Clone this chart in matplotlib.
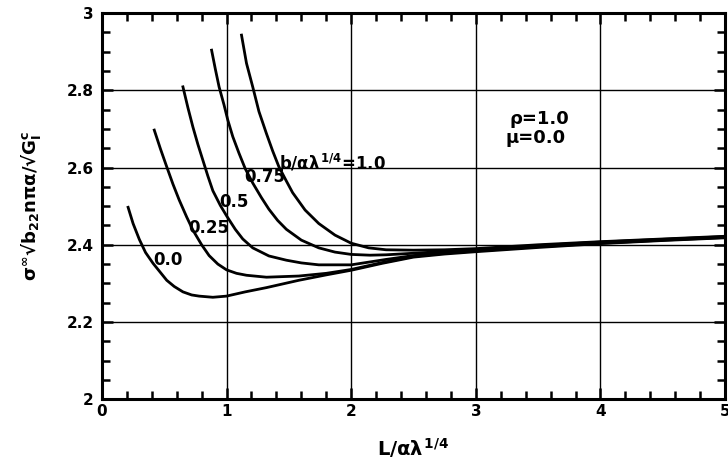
import numpy as np
import matplotlib.pyplot as plt
from matplotlib.ticker import MultipleLocator

plt.rcParams['font.family'] = ['DejaVu Sans']
plt.rcParams['font.weight'] = 'bold'
plt.rcParams['mathtext.fontset'] = 'custom'
plt.rcParams['mathtext.rm'] = 'DejaVu Sans:bold'
plt.rcParams['mathtext.it'] = 'DejaVu Sans:bold'
plt.rcParams['mathtext.bf'] = 'DejaVu Sans:bold'

# b/a lambda^1/4 = 0.0
x00 = [0.21, 0.25, 0.30, 0.35, 0.41, 0.47, 0.52, 0.58, 0.65, 0.72, 0.78, 0.89, 1.0, 1.15, 1.32, 1.58, 1.8, 2.0,
       2.25, 2.5, 2.75, 3.0, 3.5, 4.0, 4.5, 5.0]
y00 = [2.497, 2.455, 2.414, 2.380, 2.352, 2.328, 2.308, 2.292, 2.278, 2.270, 2.267, 2.264, 2.267, 2.278, 2.289,
       2.308, 2.322, 2.334, 2.352, 2.368, 2.376, 2.382, 2.393, 2.403, 2.411, 2.418]
# 0.25
x025 = [0.42, 0.47, 0.52, 0.57, 0.62, 0.68, 0.73, 0.80, 0.86, 0.93, 1.0, 1.08, 1.16, 1.32, 1.58, 1.8, 2.0, 2.25,
        2.5, 2.75, 3.0, 3.5, 4.0, 4.5, 5.0]
y025 = [2.697, 2.648, 2.602, 2.557, 2.516, 2.472, 2.438, 2.400, 2.372, 2.350, 2.335, 2.326, 2.321, 2.316, 2.319,
        2.326, 2.336, 2.354, 2.370, 2.378, 2.384, 2.395, 2.404, 2.412, 2.419]
# 0.5
x05 = [0.65, 0.69, 0.73, 0.77, 0.81, 0.85, 0.89, 0.95, 1.0, 1.07, 1.13, 1.21, 1.34, 1.48, 1.6, 1.74, 2.0, 2.28,
       2.5, 2.75, 3.0, 3.5, 4.0, 4.5, 5.0]
y05 = [2.809, 2.755, 2.705, 2.660, 2.619, 2.578, 2.540, 2.502, 2.475, 2.440, 2.415, 2.392, 2.371, 2.360, 2.353,
       2.348, 2.348, 2.362, 2.372, 2.380, 2.386, 2.397, 2.406, 2.413, 2.420]
# 0.75
x075 = [0.88, 0.91, 0.94, 0.98, 1.01, 1.05, 1.10, 1.15, 1.21, 1.28, 1.34, 1.41, 1.48, 1.6, 1.74, 1.87, 2.0, 2.15,
        2.28, 2.5, 2.75, 3.0, 3.5, 4.0, 4.5, 5.0]
y075 = [2.904, 2.855, 2.809, 2.762, 2.723, 2.680, 2.637, 2.597, 2.560, 2.522, 2.492, 2.463, 2.440, 2.412, 2.392,
        2.381, 2.375, 2.373, 2.374, 2.378, 2.383, 2.388, 2.398, 2.407, 2.414, 2.421]
# 1.0
x10 = [1.12, 1.16, 1.21, 1.26, 1.32, 1.37, 1.42, 1.48, 1.53, 1.63, 1.74, 1.87, 2.0, 2.14, 2.28, 2.5, 2.75, 3.0,
       3.5, 4.0, 4.5, 5.0]
y10 = [2.943, 2.870, 2.809, 2.745, 2.688, 2.643, 2.602, 2.565, 2.535, 2.490, 2.455, 2.425, 2.404, 2.392, 2.387,
       2.386, 2.387, 2.390, 2.400, 2.408, 2.415, 2.422]

curves = [(x00, y00), (x025, y025), (x05, y05), (x075, y075), (x10, y10)]
labels = ['0.0', '0.25', '0.5', '0.75', r'b/$\alpha\lambda^{1/4}$=1.0']
label_pos = [(0.41, 2.36), (0.69, 2.443), (0.94, 2.51), (1.14, 2.575), (1.42, 2.611)]

fig = plt.figure(figsize=(7.28, 4.68), dpi=100)
ax = fig.add_axes([0.140, 0.147, 0.856, 0.825])

for (x, y) in curves:
    ax.plot(x, y, color='black', lw=2.0)

for txt, (lx, ly) in zip(labels, label_pos):
    ax.text(lx, ly, txt, fontsize=12, fontweight='bold', ha='left', va='center')

ax.text(3.27, 2.725, 'ρ=1.0', fontsize=13, fontweight='bold', va='center')
ax.text(3.24, 2.676, 'μ=0.0', fontsize=13, fontweight='bold', va='center')

ax.set_xlim(0, 5)
ax.set_ylim(2, 3)
ax.xaxis.set_major_locator(MultipleLocator(1))
ax.xaxis.set_minor_locator(MultipleLocator(0.2))
ax.yaxis.set_minor_locator(MultipleLocator(0.05))
ax.set_yticks([2, 2.2, 2.4, 2.6, 2.8, 3])
ax.set_yticklabels(['2', '2.2', '2.4', '2.6', '2.8', '3'])
ax.grid(True, which='major', color='black', lw=1.0)
ax.tick_params(which='both', direction='in', top=True, right=True, width=1.8)
ax.tick_params(which='major', length=8, labelsize=11)
ax.tick_params(axis='y', which='major', pad=6)
ax.tick_params(which='minor', length=6)
for s in ax.spines.values():
    s.set_linewidth(2.2)
for t in ax.get_xticklabels() + ax.get_yticklabels():
    t.set_fontweight('bold')

ax.set_xlabel(r'L/$\alpha\lambda^{1/4}$', fontsize=14, fontweight='bold', labelpad=12)
ax.set_ylabel(r'$\sigma^{\infty}$√b$_{22}$nπα/√G$^c_I$', fontsize=13, fontweight='bold', labelpad=17)

fig.savefig('out.png', dpi=100)
